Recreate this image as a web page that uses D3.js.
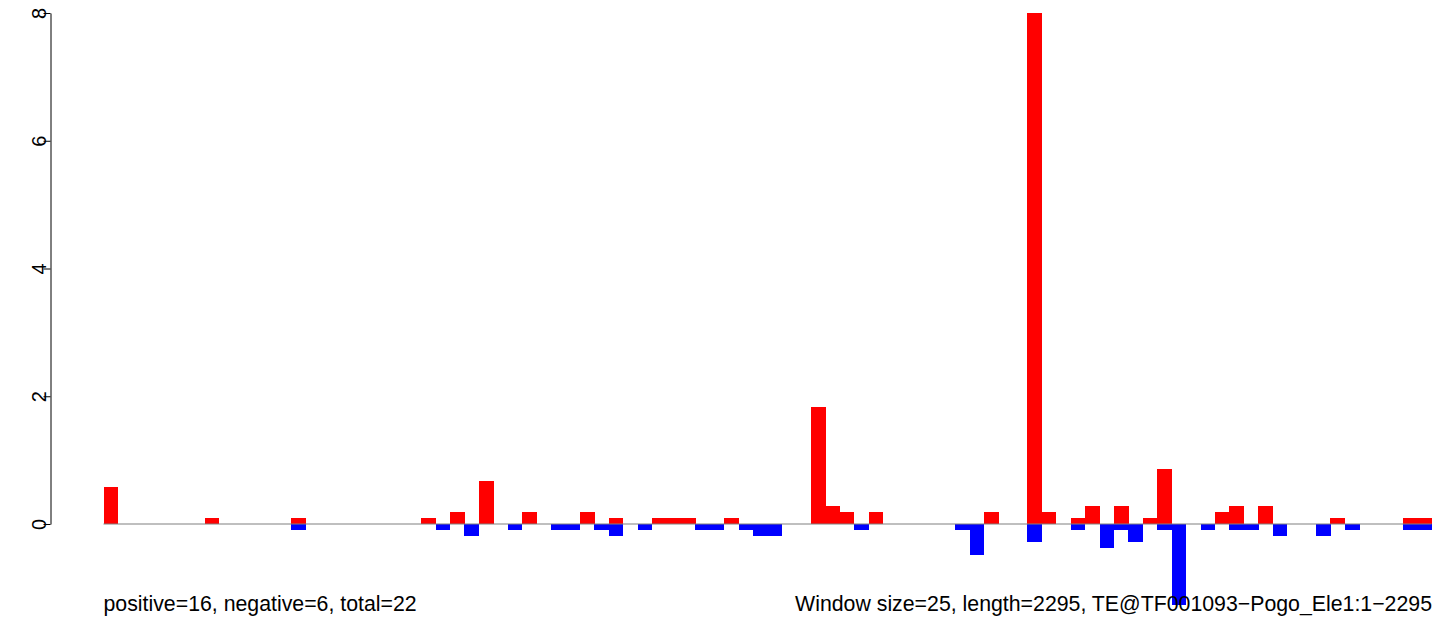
<!DOCTYPE html>
<html>
<head>
<meta charset="utf-8">
<script src="https://cdn.jsdelivr.net/npm/d3@7"></script>
<style>
  html, body { margin: 0; padding: 0; background: #fff; }
  svg { display: block; }
  text { font-family: "Liberation Sans", Arial, Helvetica, sans-serif; }
</style>
</head>
<body>
<svg id="chart" width="1449" height="617"></svg>
<script>
// Window index (window size 25 over a 2295 bp element -> 92 windows)
const windows = d3.range(92);

// Positive-strand values per window
const positive = [
  0.58, 0, 0, 0, 0, 0, 0, 0.095, 0, 0,
  0, 0, 0, 0.095, 0, 0, 0, 0, 0, 0,
  0, 0, 0.095, 0, 0.19, 0, 0.67, 0, 0, 0.19,
  0, 0, 0, 0.19, 0, 0.095, 0, 0, 0.095, 0.095,
  0.095, 0, 0, 0.095, 0, 0, 0, 0, 0, 1.83,
  0.285, 0.19, 0, 0.19, 0, 0, 0, 0, 0, 0,
  0, 0.19, 0, 0, 8, 0.19, 0, 0.095, 0.285, 0,
  0.285, 0, 0.095, 0.86, 0, 0, 0, 0.19, 0.285, 0,
  0.285, 0, 0, 0, 0, 0.095, 0, 0, 0, 0,
  0.095, 0.095
];

// Negative-strand values per window
const negative = [
  0, 0, 0, 0, 0, 0, 0, 0, 0, 0,
  0, 0, 0, -0.095, 0, 0, 0, 0, 0, 0,
  0, 0, 0, -0.095, 0, -0.19, 0, 0, -0.095, 0,
  0, -0.095, -0.095, 0, -0.095, -0.19, 0, -0.095, 0, 0,
  0, -0.095, -0.095, 0, -0.095, -0.19, -0.19, 0, 0, 0,
  0, 0, -0.095, 0, 0, 0, 0, 0, 0, -0.095,
  -0.48, 0, 0, 0, -0.285, 0, 0, -0.095, 0, -0.38,
  -0.095, -0.285, 0, -0.095, -1.27, 0, -0.095, 0, -0.095, -0.095,
  0, -0.19, 0, 0, -0.19, 0, -0.095, 0, 0, 0,
  -0.095, -0.095
];

const yTicks = [0, 2, 4, 6, 8];
const leftNote = "positive=16, negative=6, total=22";
const rightNote = "Window size=25, length=2295, TE@TF001093\u2212Pogo_Ele1:1\u22122295";

const svg = d3.select("#chart");

const x = d3.scaleBand()
  .domain(windows)
  .range([103.5, 1431.5])
  .paddingInner(0).paddingOuter(0);

const y = d3.scaleLinear().domain([0, 8]).range([524, 13]);

// positive bars
svg.append("g")
  .attr("shape-rendering", "crispEdges")
  .selectAll("rect")
  .data(windows.filter(i => positive[i] > 0))
  .join("rect")
  .attr("x", i => x(i))
  .attr("width", x.bandwidth() + 0.3)
  .attr("y", i => y(positive[i]))
  .attr("height", i => y(0) - y(positive[i]))
  .attr("fill", "#ff0000");

// negative bars
svg.append("g")
  .attr("shape-rendering", "crispEdges")
  .selectAll("rect")
  .data(windows.filter(i => negative[i] < 0))
  .join("rect")
  .attr("x", i => x(i))
  .attr("width", x.bandwidth() + 0.3)
  .attr("y", y(0))
  .attr("height", i => y(negative[i]) - y(0))
  .attr("fill", "#0000ff");

// zero line
svg.append("line")
  .attr("x1", x.range()[0]).attr("x2", x.range()[1])
  .attr("y1", y(0)).attr("y2", y(0))
  .attr("stroke", "#808080").attr("stroke-width", 1.2);

// y axis
const axis = svg.append("g")
  .attr("transform", "translate(50.5,0)")
  .call(d3.axisLeft(y).tickValues(yTicks).tickSize(7).tickSizeOuter(0).tickFormat(d3.format("d")));
axis.select(".domain").attr("stroke", "#000").attr("stroke-width", 1);
axis.selectAll(".tick line").attr("stroke", "#000").attr("stroke-width", 1);
axis.selectAll(".tick text")
  .attr("x", null).attr("dy", null).attr("y", null)
  .attr("transform", "translate(-5,0) rotate(-90)")
  .attr("text-anchor", "middle")
  .attr("font-size", 20)
  .attr("font-family", "Liberation Sans, Arial, sans-serif")
  .attr("fill", "#000");

// notes
svg.append("text")
  .attr("x", 103.5).attr("y", 610.5)
  .attr("font-size", 21.3)
  .attr("text-anchor", "start")
  .text(leftNote);
svg.append("text")
  .attr("x", 1432).attr("y", 610.5)
  .attr("font-size", 21.3)
  .attr("text-anchor", "end")
  .text(rightNote);
</script>
</body>
</html>
